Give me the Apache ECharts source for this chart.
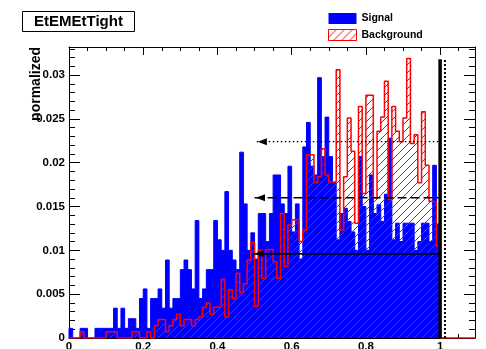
<!DOCTYPE html>
<html>
<head>
<meta charset="utf-8">
<script src="https://cdn.jsdelivr.net/npm/echarts@6/dist/echarts.min.js"></script>
<style>
  html, body { margin: 0; padding: 0; background: #fff; }
  #chart { width: 486px; height: 349px; }
</style>
</head>
<body>
<div id="chart"></div>
<script>
// bin contents, 100 bins of width 0.01 from 0 to 1
const signal = [
  0.0011, 0, 0, 0.0011, 0.0011, 0, 0, 0.0011, 0.0011, 0.0011,
  0.0011, 0.0011, 0.0034, 0.0011, 0.0034, 0.0011, 0.0022, 0.0022, 0.0011, 0.0045,
  0.0056, 0.0011, 0.0045, 0.0045, 0.0056, 0.0034, 0.0089, 0.0034, 0.0045, 0.0045,
  0.0078, 0.0089, 0.0078, 0.0056, 0.0134, 0.0045, 0.0056, 0.0078, 0.0078, 0.0134,
  0.0112, 0.0100, 0.0167, 0.0100, 0.0089, 0.0078, 0.0212, 0.0153, 0.0100, 0.0120,
  0.0090, 0.0142, 0.0142, 0.0110, 0.0142, 0.0186, 0.0186, 0.0153, 0.0142, 0.0196,
  0.0121, 0.0153, 0.0090, 0.0218, 0.0246, 0.0196, 0.0186, 0.0297, 0.0207, 0.0252,
  0.0207, 0.0177, 0.0112, 0.0142, 0.0148, 0.0133, 0.0121, 0.0100, 0.0207, 0.0150,
  0.0100, 0.0186, 0.0142, 0.0152, 0.0133, 0.0164, 0.0228, 0.0112, 0.0131, 0.0110,
  0.0131, 0.0131, 0.0131, 0.0100, 0.0110, 0.0131, 0.0131, 0.0110, 0.0197, 0.0130
];
const background = [
  0, 0, 0, 0.0007, 0, 0, 0, 0, 0, 0,
  0.0007, 0.0007, 0.0007, 0, 0, 0, 0, 0.0007, 0.0007, 0,
  0, 0.0007, 0, 0.0014, 0.0021, 0.0021, 0.0007, 0.0014, 0.0021, 0.0027,
  0.0014, 0.0021, 0.0021, 0.0014, 0.0021, 0.0024, 0.0035, 0.0040, 0.0027, 0.0035,
  0.0035, 0.0067, 0.0024, 0.0055, 0.0045, 0.0074, 0.0052, 0.0062, 0.0089, 0.0109,
  0.0036, 0.0100, 0.0068, 0.0101, 0.0101, 0.0087, 0.0068, 0.0142, 0.0082, 0.0129,
  0.0135, 0.0135, 0.0110, 0.0123, 0.0209, 0.0209, 0.0177, 0.0184, 0.0216, 0.0186,
  0.0178, 0.0178, 0.0306, 0.0123, 0.0184, 0.0251, 0.0213, 0.0131, 0.0264, 0.0165,
  0.0277, 0.0277, 0.0160, 0.0236, 0.0252, 0.0293, 0.0158, 0.0264, 0.0236, 0.0224,
  0.0251, 0.0319, 0.0222, 0.0232, 0.0177, 0.0258, 0.0197, 0.0156, 0.0155, 0.0105
];
// cut lines: level, where the line starts, where the arrow head sits
const cutLevels = [0.0224, 0.0160, 0.0096];
const cutStarts = [0.506, 0.500, 0.495];
const cutArrows = [0.521, 0.516, 0.512];
const cutEnd = 1.0;
const markerX = [1.0, 1.013];
const markerTop = 0.0318;
const xTicks = ['0', '0.2', '0.4', '0.6', '0.8', '1'];

const binWidth = 0.01;
const xMax = 1.094;
const yMax = 0.0332;
const FONT = '"Liberation Sans", Arial, sans-serif';

function stepPoints(values, tail) {
  let pts = [[0, 0]];
  values.forEach((v, i) => pts.push([i * binWidth, v]));
  pts.push([values.length * binWidth, 0]);
  if (tail) pts.push([tail, 0]);
  return pts;
}

// red hatch like ROOT fill style 3004
const hatch = document.createElement('canvas');
hatch.width = 8;
hatch.height = 8;
const hctx = hatch.getContext('2d');
hctx.strokeStyle = '#ff0000';
hctx.lineWidth = 1;
hctx.beginPath();
hctx.moveTo(0, 8); hctx.lineTo(8, 0);
hctx.moveTo(-1, 1); hctx.lineTo(1, -1);
hctx.moveTo(7, 9); hctx.lineTo(9, 7);
hctx.stroke();
const hatchFill = { image: hatch, repeat: 'repeat' };

let cutSeries = cutLevels.map((y, k) => ({
  type: 'line',
  z: 5,
  silent: true,
  lineStyle: {
    color: '#000',
    width: k == 2 ? 1.6 : 1.4,
    type: k == 0 ? [1.5, 2.5] : (k == 1 ? [9, 4] : 'solid')
  },
  itemStyle: { color: '#000' },
  data: [
    { value: [cutStarts[k], y], symbol: 'none' },
    { value: [cutArrows[k], y], symbol: 'triangle', symbolSize: [7, 9], symbolRotate: 90 },
    { value: [cutEnd, y], symbol: 'none' }
  ]
}));

let markerSeries = markerX.map((x, k) => ({
  type: 'line',
  z: 5,
  silent: true,
  symbol: 'none',
  lineStyle: { color: '#000', width: k == 0 ? 3.5 : 2, type: k == 0 ? 'solid' : [2, 2] },
  data: [[x, 0], [x, markerTop]]
}));

const axisText = { color: '#000', fontFamily: FONT, fontWeight: 'bold', fontSize: 11.5 };

let option = {
  animation: false,
  backgroundColor: '#fff',
  title: {
    text: 'EtEMEtTight',
    left: 22,
    top: 11,
    padding: [3, 12],
    borderColor: '#000',
    borderWidth: 1,
    backgroundColor: '#fff',
    textStyle: { color: '#000', fontFamily: FONT, fontWeight: 'bold', fontSize: 15 }
  },
  legend: {
    orient: 'vertical',
    left: 328,
    top: 13,
    itemWidth: 28,
    itemHeight: 11,
    itemGap: 5,
    padding: 0,
    selectedMode: false,
    textStyle: { color: '#000', fontFamily: FONT, fontWeight: 'bold', fontSize: 10.5 },
    data: [
      { name: 'Signal', icon: 'rect', itemStyle: { color: '#0000ff', borderWidth: 0 } },
      { name: 'Background', icon: 'rect', itemStyle: { color: hatchFill, borderColor: '#ff0000', borderWidth: 1 } }
    ]
  },
  graphic: [{
    type: 'text',
    x: 36,
    y: 47,
    rotation: Math.PI / 2,
    style: {
      text: 'normalized',
      fill: '#000',
      font: 'bold 14px ' + FONT,
      textAlign: 'right',
      textVerticalAlign: 'middle'
    }
  }],
  grid: { left: 69, right: 11, top: 47, bottom: 11, outerBoundsMode: 'none' },
  xAxis: [
    {
      type: 'value', min: 0, max: xMax, interval: 0.2,
      axisLine: { onZero: false, lineStyle: { color: '#000', width: 1 } },
      axisTick: { inside: true, length: 8, lineStyle: { color: '#000' } },
      minorTick: { show: true, splitNumber: 4, length: 4, lineStyle: { color: '#000' } },
      splitLine: { show: false },
      axisLabel: Object.assign({ margin: 3, showMaxLabel: false,
        formatter: (v) => { let i = Math.round(v / 0.2); return Math.abs(v - i * 0.2) < 1e-6 && xTicks[i] !== undefined ? xTicks[i] : ''; } }, axisText)
    },
    {
      type: 'value', min: 0, max: xMax, interval: 0.2, position: 'top',
      axisLine: { onZero: false, lineStyle: { color: '#000', width: 1 } },
      axisTick: { inside: true, length: 8, lineStyle: { color: '#000' } },
      minorTick: { show: true, splitNumber: 4, length: 4, lineStyle: { color: '#000' } },
      splitLine: { show: false },
      axisLabel: { show: false }
    }
  ],
  yAxis: [
    {
      type: 'value', min: 0, max: yMax, interval: 0.005,
      axisLine: { show: true, onZero: false, lineStyle: { color: '#000', width: 1 } },
      axisTick: { show: true, inside: true, length: 11, lineStyle: { color: '#000' } },
      minorTick: { show: true, splitNumber: 5, length: 6, lineStyle: { color: '#000' } },
      splitLine: { show: false },
      axisLabel: Object.assign({ margin: 4, showMaxLabel: false }, axisText)
    },
    {
      type: 'value', min: 0, max: yMax, interval: 0.005, position: 'right',
      axisLine: { show: true, onZero: false, lineStyle: { color: '#000', width: 1 } },
      axisTick: { show: true, inside: true, length: 11, lineStyle: { color: '#000' } },
      minorTick: { show: true, splitNumber: 5, length: 6, lineStyle: { color: '#000' } },
      splitLine: { show: false },
      axisLabel: { show: false }
    }
  ],
  series: [
    {
      name: 'Signal',
      type: 'line',
      step: 'end',
      symbol: 'none',
      z: 2,
      color: '#0000ff',
      lineStyle: { color: '#0000ff', width: 1 },
      areaStyle: { color: '#0000ff', opacity: 1 },
      data: stepPoints(signal)
    },
    {
      name: 'Background',
      type: 'line',
      step: 'end',
      symbol: 'none',
      z: 3,
      color: '#ff0000',
      lineStyle: { color: '#ff0000', width: 1.5 },
      areaStyle: { color: hatchFill, opacity: 1 },
      data: stepPoints(background, xMax)
    }
  ].concat(cutSeries, markerSeries)
};

let myChart = echarts.init(document.getElementById('chart'));
option && myChart.setOption(option);
</script>
</body>
</html>
